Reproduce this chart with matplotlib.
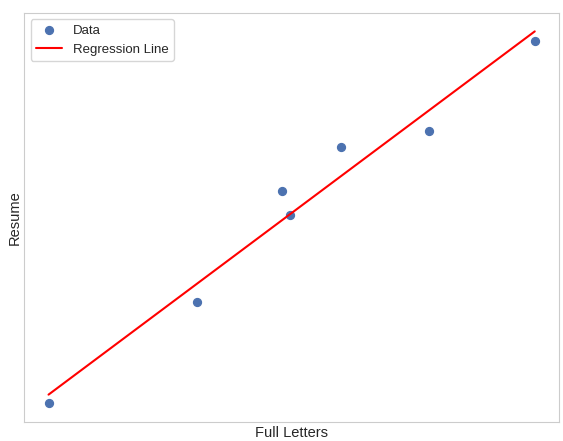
import numpy as np
import matplotlib
matplotlib.use("Agg")
import matplotlib.pyplot as plt
import seaborn as sns

full_letters = np.array([48, 197, 282, 290, 341, 429, 535])
resume = np.array([38, 139, 250, 226, 294, 310, 400])

sns.set_style("whitegrid")
plt.rcParams["font.family"] = ["Liberation Sans", "DejaVu Sans"]
plt.rcParams["font.size"] = 9.5

fig = plt.figure(figsize=(5.63, 4.41), dpi=100)
ax = fig.add_axes([0.043, 0.043, 0.950, 0.928])

# least squares fit
slope, intercept = np.polyfit(full_letters, resume, 1)

ax.scatter(full_letters, resume, color="#4C72B0", s=32, label="Data")
ax.plot(full_letters, slope * full_letters + intercept, color="red", label="Regression Line")

ax.set_xlabel("Full Letters", fontsize=10.5)
ax.set_ylabel("Resume", fontsize=10.5)
ax.set_xticks([])
ax.set_yticks([])
ax.grid(False)
ax.xaxis.labelpad = 2.5
ax.yaxis.labelpad = 2
ax.legend(loc="upper left", frameon=True)

fig.savefig("out.png", dpi=100)
